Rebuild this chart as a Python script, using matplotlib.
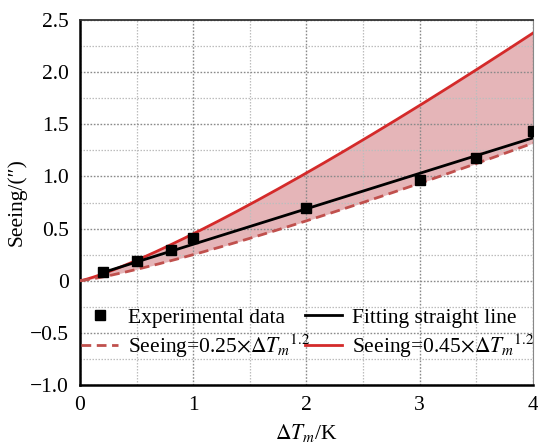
import numpy as np
import matplotlib
matplotlib.use("Agg")
import matplotlib.pyplot as plt
from matplotlib.ticker import MultipleLocator

plt.rcParams['font.family'] = ['Liberation Serif', 'DejaVu Serif']
plt.rcParams['mathtext.fontset'] = 'stix'

# experimental data
dT = [0.2, 0.5, 0.8, 1.0, 2.0, 3.0, 3.5, 4.0]
seeing = [0.08, 0.19, 0.29, 0.41, 0.70, 0.97, 1.18, 1.44]

# fitted straight line (slope, intercept) and model coefficients
fit_slope = 0.34
fit_intercept = 0.01
coef_low = 0.25
coef_high = 0.45
power = 1.2

y_ticks = [-1.0, -0.5, 0, 0.5, 1.0, 1.5, 2.0, 2.5]
y_ticklabels = ['−1.0', '−0.5', '0', '0.5', '1.0', '1.5', '2.0', '2.5']

x_fit = np.linspace(0.2, 4.0, 50)
x_curve = np.linspace(0.0, 4.0, 200)
y_low = coef_low * x_curve ** power
y_high = coef_high * x_curve ** power

FS = 15.5

fig = plt.figure(figsize=(5.38, 4.45), dpi=100)
ax = fig.add_axes([0.1487, 0.1348, 0.842, 0.8202])

ax.fill_between(x_curve, y_low, y_high, color='#cc6d73', alpha=0.5, lw=0, zorder=1)
ax.plot(x_curve, y_high, color='#d42a2a', lw=2, zorder=3,
        label=r'Seeing=0.45$\times\Delta T_m{}^{1.2}$')
ax.plot(x_curve, y_low, color='#c0504d', lw=2, ls=(0, (3.5, 2)), zorder=3,
        label=r'Seeing=0.25$\times\Delta T_m{}^{1.2}$')
ax.plot(x_fit, fit_slope * x_fit + fit_intercept, color='black', lw=2, zorder=4,
        label='Fitting straight line')
ax.plot(dT, seeing, 's', color='black', ms=6.5, zorder=5, label='Experimental data')

ax.set_xlim(0, 4)
ax.set_ylim(-1.0, 2.5)
ax.xaxis.set_major_locator(MultipleLocator(1))
ax.xaxis.set_minor_locator(MultipleLocator(0.5))
ax.set_yticks(y_ticks)
ax.set_yticklabels(y_ticklabels)
ax.yaxis.set_minor_locator(MultipleLocator(0.25))

ax.grid(which='major', color='#8a8a8a', ls=(0, (1.2, 1.2)), lw=1.0)
ax.grid(which='minor', color='#bdbdbd', ls=(0, (1.2, 1.2)), lw=0.9)
ax.tick_params(which='both', length=0, labelsize=FS, pad=8)

ax.spines['left'].set_linewidth(1.8)
ax.spines['bottom'].set_linewidth(1.8)
ax.spines['top'].set_color('#333333')
ax.spines['top'].set_linewidth(1.3)
ax.spines['right'].set_color('#888888')

ax.set_xlabel(r'$\Delta T_m$/K', fontsize=FS, labelpad=5)
ax.set_ylabel('Seeing/(″)', fontsize=FS, labelpad=2)

h, l = ax.get_legend_handles_labels()
order = [3, 1, 2, 0]
ax.legend([h[i] for i in order], [l[i] for i in order], ncol=2, frameon=False,
          loc='upper left', bbox_to_anchor=(-0.016, 0.235), borderaxespad=0,
          fontsize=FS, handlelength=1.7, handletextpad=0.45,
          columnspacing=-0.2, labelspacing=0.2)

fig.savefig('out.png', dpi=100)
